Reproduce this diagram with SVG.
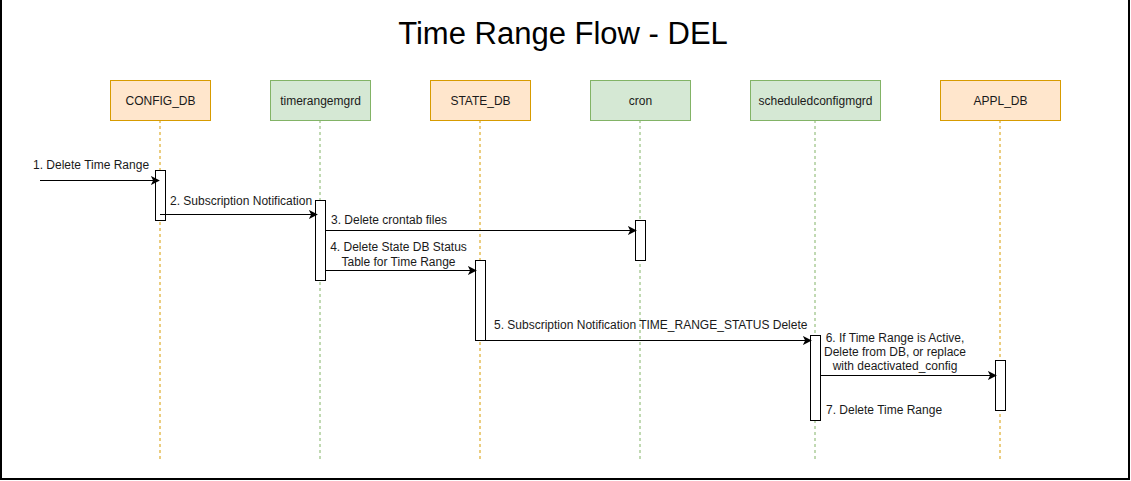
<svg xmlns="http://www.w3.org/2000/svg" width="1131" height="481" viewBox="0 0 1131 481">
  <style>
    text { font-family: "Liberation Sans", Arial, sans-serif; font-size: 12px; fill: #1a1a1a; }
    .title { font-size: 31px; fill: #000; }
    .head-db { fill: #ffe6cc; stroke: #d79b00; stroke-width: 1; }
    .head-proc { fill: #d5e8d4; stroke: #82b366; stroke-width: 1; }
    .life-db { stroke: #d79b00; stroke-width: 1; stroke-dasharray: 3 3; fill: none; }
    .life-proc { stroke: #82b366; stroke-width: 1; stroke-dasharray: 3 3; fill: none; }
    .act { fill: #ffffff; stroke: #000000; stroke-width: 1; }
    .msg { stroke: #000000; stroke-width: 1; fill: none; marker-end: url(#arrow); }
    .mid { text-anchor: middle; }
  </style>
  <defs>
    <marker id="arrow" viewBox="0 0 10 10" refX="9" refY="5" markerWidth="9" markerHeight="9" markerUnits="userSpaceOnUse" orient="auto">
      <path d="M0,0 L10,5 L0,10 L2.5,5 Z" fill="#000"/>
    </marker>
  </defs>

  <rect x="0" y="0" width="1131" height="481" fill="#ffffff"/>
  <rect x="1" y="-2" width="1128" height="481" fill="none" stroke="#000" stroke-width="2"/>

  <text class="title mid" x="563" y="44">Time Range Flow - DEL</text>

  <!-- participants with lifelines -->
  <g id="config-db">
    <line class="life-db" x1="160" y1="120" x2="160" y2="460"/>
    <rect class="head-db" x="110.5" y="80.5" width="100" height="40"/>
    <text class="mid" x="160.5" y="105">CONFIG_DB</text>
  </g>
  <g id="timerangemgrd">
    <line class="life-proc" x1="320" y1="120" x2="320" y2="460"/>
    <rect class="head-proc" x="270.5" y="80.5" width="100" height="40"/>
    <text class="mid" x="320.5" y="105">timerangemgrd</text>
  </g>
  <g id="state-db">
    <line class="life-db" x1="480" y1="120" x2="480" y2="460"/>
    <rect class="head-db" x="430.5" y="80.5" width="100" height="40"/>
    <text class="mid" x="480.5" y="105">STATE_DB</text>
  </g>
  <g id="cron">
    <line class="life-proc" x1="640" y1="120" x2="640" y2="460"/>
    <rect class="head-proc" x="590.5" y="80.5" width="100" height="40"/>
    <text class="mid" x="640.5" y="105">cron</text>
  </g>
  <g id="scheduledconfigmgrd">
    <line class="life-proc" x1="815" y1="120" x2="815" y2="460"/>
    <rect class="head-proc" x="750.5" y="80.5" width="130" height="40"/>
    <text class="mid" x="815.5" y="105">scheduledconfigmgrd</text>
  </g>
  <g id="appl-db">
    <line class="life-db" x1="1000" y1="120" x2="1000" y2="460"/>
    <rect class="head-db" x="940.5" y="80.5" width="120" height="40"/>
    <text class="mid" x="1000.5" y="105">APPL_DB</text>
  </g>

  <!-- activation bars -->
  <g id="activations">
    <rect class="act" x="155.5" y="170.5" width="10" height="50"/>
    <rect class="act" x="315.5" y="200.5" width="10" height="80"/>
    <rect class="act" x="635.5" y="220.5" width="10" height="40"/>
    <rect class="act" x="475.5" y="260.5" width="10" height="80"/>
    <rect class="act" x="810.5" y="335.5" width="10" height="85"/>
    <rect class="act" x="995.5" y="360.5" width="10" height="50"/>
  </g>

  <!-- messages -->
  <g id="connectors">
    <line class="msg" x1="40" y1="180.5" x2="159" y2="180.5"/>
    <line class="msg" x1="160" y1="214.5" x2="317" y2="214.5"/>
    <line class="msg" x1="326" y1="230.5" x2="636" y2="230.5"/>
    <line class="msg" x1="326" y1="270.5" x2="476" y2="270.5"/>
    <line class="msg" x1="486" y1="340.5" x2="811" y2="340.5"/>
    <line class="msg" x1="821" y1="375.5" x2="996" y2="375.5"/>
  </g>

  <g id="labels">
    <text x="33" y="169">1. Delete Time Range</text>
    <text x="170" y="205">2. Subscription Notification</text>
    <text x="331" y="224">3. Delete crontab files</text>
    <text class="mid" x="398.5" y="251">4. Delete State DB Status</text>
    <text class="mid" x="398.5" y="266">Table for Time Range</text>
    <text x="494" y="329">5. Subscription Notification TIME_RANGE_STATUS Delete</text>
    <text class="mid" x="895" y="342">6. If Time Range is Active,</text>
    <text class="mid" x="895" y="356">Delete from DB, or replace</text>
    <text class="mid" x="895" y="370">with deactivated_config</text>
    <text x="826" y="414">7. Delete Time Range</text>
  </g>
</svg>
